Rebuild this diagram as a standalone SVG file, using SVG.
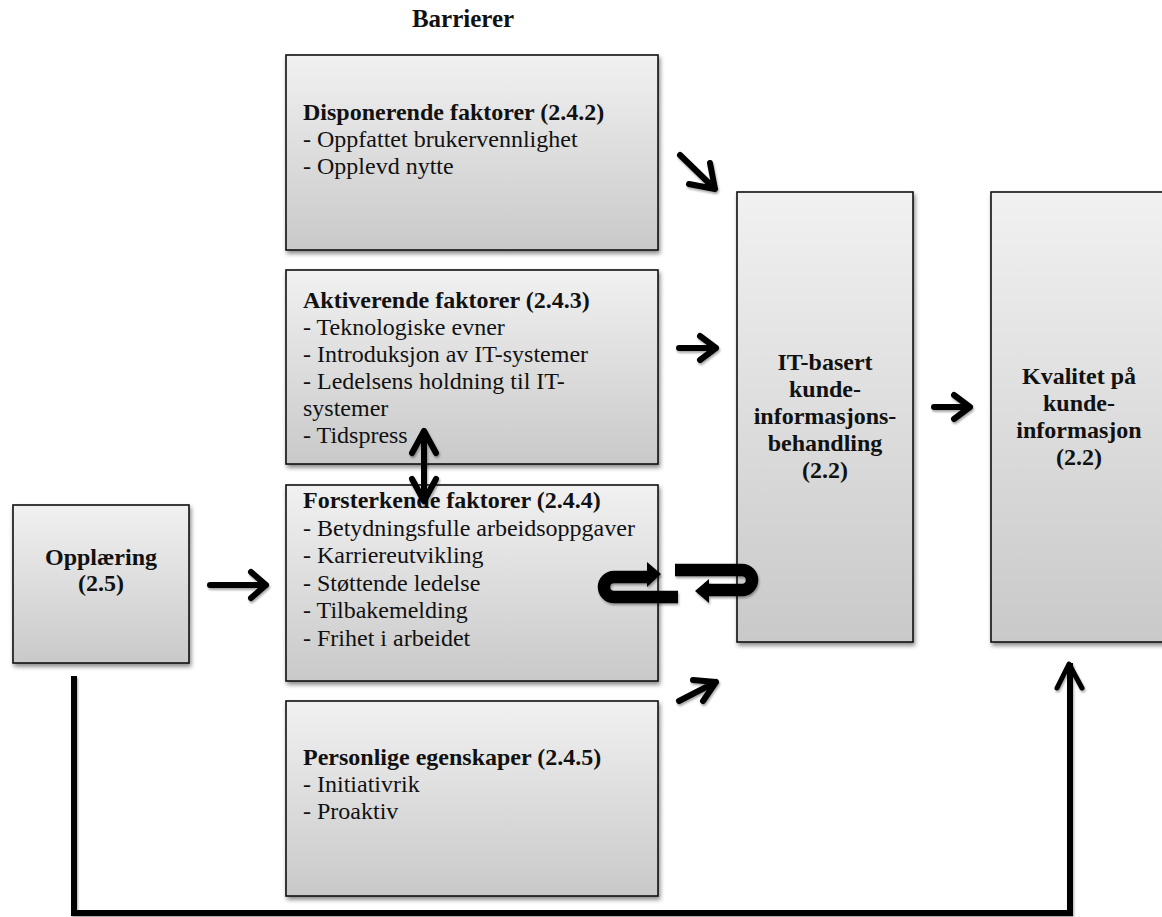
<svg xmlns="http://www.w3.org/2000/svg" width="1162" height="917" viewBox="0 0 1162 917">
<defs>
<linearGradient id="g" x1="0" y1="0" x2="0" y2="1">
<stop offset="0" stop-color="#f1f1f1"/>
<stop offset="1" stop-color="#c9c9c9"/>
</linearGradient>
<filter id="sh" x="-10%" y="-10%" width="130%" height="130%">
<feDropShadow dx="1.5" dy="3" stdDeviation="2" flood-color="#000" flood-opacity="0.45"/>
</filter>
<filter id="ash" x="-20%" y="-20%" width="150%" height="150%">
<feDropShadow dx="1" dy="2" stdDeviation="1.2" flood-color="#000" flood-opacity="0.35"/>
</filter>
</defs>
<style>
.box{fill:url(#g);stroke:#111;stroke-width:1.6;filter:url(#sh)}
.t{font-family:"Liberation Serif","Times New Roman",serif;font-size:24px;fill:#111}
.b{font-weight:bold}
.c{text-anchor:middle}
.arr{fill:none;stroke:#000;stroke-width:6;stroke-linecap:round;stroke-linejoin:round;filter:url(#ash)}
.u{fill:none;stroke:#000;stroke-width:12.5;stroke-linecap:butt}
</style>
<rect width="1162" height="917" fill="#fff"/>
<text class="t b c" x="463" y="27" style="font-size:25px">Barrierer</text>

<g id="disponerende">
<rect class="box" x="286" y="55" width="372" height="195"/>
<text class="t" x="303" y="120"><tspan class="b">Disponerende faktorer (2.4.2)</tspan><tspan x="303" dy="27">- Oppfattet brukervennlighet</tspan><tspan x="303" dy="27">- Opplevd nytte</tspan></text>
</g>

<g id="aktiverende">
<rect class="box" x="286" y="270" width="372" height="194"/>
<text class="t" x="303" y="308"><tspan class="b">Aktiverende faktorer (2.4.3)</tspan><tspan x="303" dy="27">- Teknologiske evner</tspan><tspan x="303" dy="27">- Introduksjon av IT-systemer</tspan><tspan x="303" dy="27">- Ledelsens holdning til IT-</tspan><tspan x="303" dy="27">systemer</tspan><tspan x="303" dy="27">- Tidspress</tspan></text>
</g>

<g id="forsterkende">
<rect class="box" x="286" y="485" width="372" height="196"/>
<text class="t" x="303" y="508"><tspan class="b">Forsterkende faktorer (2.4.4)</tspan><tspan x="303" dy="27.5">- Betydningsfulle arbeidsoppgaver</tspan><tspan x="303" dy="27.5">- Karriereutvikling</tspan><tspan x="303" dy="27.5">- Støttende ledelse</tspan><tspan x="303" dy="27.5">- Tilbakemelding</tspan><tspan x="303" dy="27.5">- Frihet i arbeidet</tspan></text>
</g>

<g id="personlige">
<rect class="box" x="286" y="701" width="372" height="195"/>
<text class="t" x="303" y="765"><tspan class="b">Personlige egenskaper (2.4.5)</tspan><tspan x="303" dy="27">- Initiativrik</tspan><tspan x="303" dy="27">- Proaktiv</tspan></text>
</g>

<g id="opplaering">
<rect class="box" x="13" y="505" width="176" height="158"/>
<text class="t b c" x="101" y="565"><tspan>Opplæring</tspan><tspan x="101" dy="26">(2.5)</tspan></text>
</g>

<g id="itbasert">
<rect class="box" x="737" y="192" width="176" height="450"/>
<text class="t b c" x="825" y="370"><tspan>IT-basert</tspan><tspan x="825" dy="27">kunde-</tspan><tspan x="825" dy="27">informasjons-</tspan><tspan x="825" dy="27">behandling</tspan><tspan x="825" dy="27">(2.2)</tspan></text>
</g>

<g id="kvalitet">
<rect class="box" x="991" y="192" width="176" height="450"/>
<text class="t b c" x="1079" y="384"><tspan>Kvalitet på</tspan><tspan x="1079" dy="27">kunde-</tspan><tspan x="1079" dy="27">informasjon</tspan><tspan x="1079" dy="27">(2.2)</tspan></text>
</g>

<g id="connectors">
<path class="arr" d="M680 155 L715 189 M689 184 L715 189 L710 163"/>
<path class="arr" d="M679 348 H716 M700 336 L716 348 L700 360"/>
<path class="arr" d="M934 407 H970 M954 395 L970 407 L954 419"/>
<path class="arr" d="M210 585 H266 M251 572 L266 585 L251 598"/>
<path class="arr" d="M679 701 L716 682 M693 680 L716 682 L703 701"/>
<path class="arr" d="M424 431 V501 M412 453 L424 431 L436 453 M412 479 L424 501 L436 479"/>
<g filter="url(#ash)">
<path class="u" d="M649 577 H614 A10 10 0 0 0 614 597 H678"/>
<polygon points="647,562 661,574 647,587"/>
<path class="u" d="M675 570 H742 A10 10 0 0 1 742 590 H707"/>
<polygon points="709,579 695,591 709,603"/>
</g>
<path class="arr" style="stroke-linecap:square;stroke-linejoin:miter" d="M74 679 V913 H1070 V666"/>
<path class="arr" style="stroke-width:5" d="M1057 688 L1069 664 L1082 688"/>
</g>
</svg>
